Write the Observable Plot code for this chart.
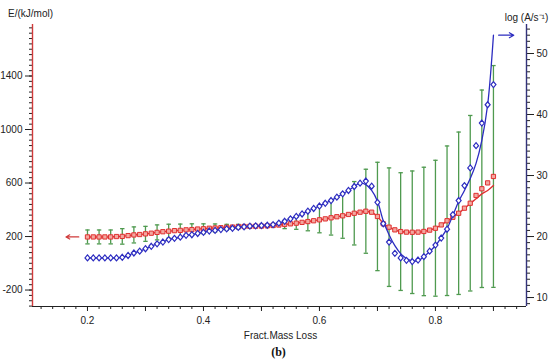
<!DOCTYPE html>
<html><head><meta charset="utf-8">
<script src="https://cdn.jsdelivr.net/npm/d3@7"></script>
<script src="https://cdn.jsdelivr.net/npm/@observablehq/plot@0.6"></script>
<style>body{margin:0;background:#fff}</style>
</head><body><div id="chart"></div>
<script>
// ---- data ----
const xs = [0.20,0.21,0.22,0.23,0.24,0.25,0.26,0.27,0.28,0.29,
            0.30,0.31,0.32,0.33,0.34,0.35,0.36,0.37,0.38,0.39,
            0.40,0.41,0.42,0.43,0.44,0.45,0.46,0.47,0.48,0.49,
            0.50,0.51,0.52,0.53,0.54,0.55,0.56,0.57,0.58,0.59,
            0.60,0.61,0.62,0.63,0.64,0.65,0.66,0.67,0.68,0.69,
            0.70,0.71,0.72,0.73,0.74,0.75,0.76,0.77,0.78,0.79,
            0.80,0.81,0.82,0.83,0.84,0.85,0.86,0.87,0.88,0.89,0.90];
// activation energy E (kJ/mol), red squares, left axis
const redE = [197,197,197,197,197,200,201,207,212,215,
              220,225,231,236,240,244,246,250,252,256,
              258,262,264,266,269,271,274,275,276,277,
              278,280,283,286,290,295,300,306,312,318,
              325,332,340,348,355,365,374,382,389,382,
              350,295,270,250,237,233,232,233,238,248,
              262,287,318,344,374,412,449,507,557,601,649];
// fitted E curve (red line)
const redFitE = [197,197,197,197,197,200,201,207,212,215,
                 220,225,231,236,240,244,246,250,252,256,
                 258,262,264,266,269,271,274,275,276,277,
                 278,280,283,286,290,295,300,306,312,318,
                 325,332,340,348,355,365,374,382,387,380,
                 350,300,270,250,238,233,232,233,238,248,
                 262,287,316,344,374,410,447,482,519,544,581];
// log A (s^-1), blue diamonds, right axis
const blueLogA = [16.5,16.5,16.5,16.5,16.5,16.5,16.6,16.9,17.3,17.6,
                  18.0,18.4,18.8,19.1,19.5,19.7,19.9,20.2,20.3,20.5,
                  20.7,20.9,21.0,21.15,21.25,21.35,21.5,21.6,21.7,21.75,
                  21.8,21.85,21.95,22.2,22.5,22.9,23.3,23.7,24.15,24.6,
                  25.0,25.45,25.9,26.45,27.0,27.55,28.2,28.75,29.1,28.25,
                  25.6,22.1,19.1,17.25,16.5,16.1,15.9,16.15,16.7,17.6,
                  18.6,19.75,21.2,23.6,25.9,28.35,31.25,34.9,38.6,41.6,44.9];
// fitted log A curve (blue line)
const blueFitLogA = [16.5,16.5,16.5,16.5,16.5,16.5,16.6,16.9,17.3,17.6,
                     18.0,18.4,18.8,19.1,19.5,19.7,19.9,20.2,20.3,20.5,
                     20.7,20.9,21.0,21.15,21.25,21.35,21.5,21.6,21.7,21.75,
                     21.8,21.85,21.95,22.2,22.5,22.9,23.3,23.7,24.15,24.6,
                     25.0,25.45,25.9,26.45,27.0,27.55,28.2,28.75,28.5,27.55,
                     25.8,22.6,20.3,18.5,17.2,16.4,16.0,16.05,16.65,17.55,
                     18.5,19.85,21.3,23.45,25.75,27.55,29.5,32.0,35.75,41.6,53.0];
// error bars on E (half widths, kJ/mol)
const errX = [0.20,0.22,0.24,0.26,0.28,0.30,0.32,0.34,0.36,0.38,
              0.40,0.42,0.44,0.46,0.48,0.50,0.52,0.54,0.56,0.58,
              0.60,0.62,0.64,0.66,0.68,0.70,0.72,0.74,0.76,0.78,
              0.80,0.82,0.84,0.86,0.88,0.90];
const errHalf = [52,52,52,58,60,56,56,52,47,43,
                 37,30,22,17,11,6,15,31,46,69,
                 97,129,168,237,314,405,443,440,458,480,
                 508,559,607,656,738,829];
const leftLabels = [-200,200,600,1000,1400];
const rightLabels = [10,20,30,40,50];
const xLabels = [0.2,0.4,0.6,0.8];

// ---- dual-axis alignment: log A -> E position ----
const toE = L => 200 + (L - 20) * 45.607;
const fromE = e => 20 + (e - 200) / 45.607;

const idx = x => Math.round((x - xs[0]) * 100);
const redRows = xs.map((x, i) => ({x, y: redE[i]}));
const redFitRows = xs.map((x, i) => ({x, y: redFitE[i]}));
const blueRows = xs.map((x, i) => ({x, y: toE(blueLogA[i])}));
const blueFitRows = xs.map((x, i) => ({x, y: toE(blueFitLogA[i])}));
const errRows = errX.map((x, i) => ({x, lo: redE[idx(x)] - errHalf[i], hi: redE[idx(x)] + errHalf[i]}));
const capRows = errRows.flatMap(d => [{x: d.x, y: d.lo}, {x: d.x, y: d.hi}]);

const xDomain = [0.1052, 0.957];
const yDomain = [-323, 1785];
const leftMinor = d3.range(-320, 1781, 40);
const rightMinor = d3.range(9, 55, 1).map(toE);
const xMinor = d3.range(6, 48).map(k => +(k * 0.02).toFixed(2)).filter(v => v > xDomain[0] && v < xDomain[1]);
const xMid = [0.1, 0.3, 0.5, 0.7, 0.9].filter(v => v > xDomain[0]);

const capSymbol = {draw(ctx, size) { const r = Math.sqrt(size / Math.PI); ctx.moveTo(-r, 0); ctx.lineTo(r, 0); }};
const diamondSymbol = {draw(ctx, size) { const r = Math.sqrt(size / Math.PI); ctx.moveTo(0, -r * 1.2); ctx.lineTo(r, 0); ctx.lineTo(0, r * 1.2); ctx.lineTo(-r, 0); ctx.closePath(); }};

const RED = "#e03030", BLUE = "#2c2cc0", GREEN = "#4f9a4f";
const blank = () => "";

const chart = Plot.plot({
  width: 550, height: 362,
  marginLeft: 32, marginRight: 24, marginTop: 24, marginBottom: 56,
  x: {domain: xDomain},
  y: {domain: yDomain},
  style: {fontFamily: "'Liberation Sans', Arial, sans-serif", fontSize: "10px", color: "#222", background: "#fff"},
  marks: [
    Plot.axisY({ticks: leftMinor, tickSize: 3, tickFormat: blank, label: null}),
    Plot.axisY({ticks: leftLabels, tickSize: 7, tickPadding: 3, tickFormat: d => String(d), label: null}),
    Plot.axisY({anchor: "right", ticks: rightMinor, tickSize: 3, tickFormat: blank, label: null}),
    Plot.axisY({anchor: "right", ticks: rightLabels.map(toE), tickSize: 7, tickPadding: 3, tickFormat: e => String(Math.round(fromE(e))), label: null}),
    Plot.axisX({ticks: xMinor, tickSize: 3, tickFormat: blank, label: null}),
    Plot.axisX({ticks: xMid, tickSize: 5, tickFormat: blank, label: null}),
    Plot.axisX({ticks: xLabels, tickSize: 5, tickPadding: 5, tickFormat: d => d.toFixed(1), label: null}),
    Plot.ruleX([xDomain[0]], {stroke: "#d03a3a", strokeWidth: 1.4}),
    Plot.ruleX([xDomain[1]], {stroke: "#33337a", strokeWidth: 1.4}),
    Plot.ruleY([yDomain[0]], {stroke: "#222", strokeWidth: 1}),
    // error bars
    Plot.ruleX(errRows, {x: "x", y1: "lo", y2: "hi", stroke: GREEN, strokeWidth: 1.3}),
    Plot.dot(capRows, {x: "x", y: "y", r: 2.2, symbol: capSymbol, stroke: GREEN, strokeWidth: 1.3}),
    // E series
    Plot.line(redFitRows, {x: "x", y: "y", stroke: RED, strokeWidth: 1.4, curve: "catmull-rom"}),
    Plot.dot(redRows, {x: "x", y: "y", r: 2.4, symbol: "square", stroke: RED, fill: "#f2a8a0", strokeWidth: 1}),
    // log A series
    Plot.line(blueFitRows, {x: "x", y: "y", stroke: BLUE, strokeWidth: 1.3, curve: "catmull-rom"}),
    Plot.dot(blueRows, {x: "x", y: "y", r: 2.5, symbol: diamondSymbol, stroke: BLUE, fill: "#fff", strokeWidth: 1.2}),
    // axis pointers
    Plot.arrow([{x1: 0.185, x2: 0.163, y: redE[0]}], {x1: "x1", x2: "x2", y1: "y", y2: "y", stroke: "#d03a3a", strokeWidth: 1.2, headLength: 9}),
    Plot.arrow([{x1: 0.909, x2: 0.935, y: toE(blueFitLogA[blueFitLogA.length - 1])}], {x1: "x1", x2: "x2", y1: "y", y2: "y", stroke: BLUE, strokeWidth: 1.2, headLength: 9}),
    // titles
    Plot.text(["E/(kJ/mol)"], {frameAnchor: "top-left", textAnchor: "middle", lineAnchor: "middle", dx: -2, dy: -11, fontSize: 10, fill: "#222"}),
    Plot.text(["log (A/s\u207B\u00B9)"], {frameAnchor: "top-right", textAnchor: "middle", lineAnchor: "middle", dx: 0, dy: -7, fontSize: 10, fill: "#222"}),
    Plot.text(["Fract.Mass Loss"], {frameAnchor: "bottom", textAnchor: "middle", lineAnchor: "middle", dx: 1, dy: 29, fontSize: 10, fill: "#222"}),
    Plot.text(["(b)"], {frameAnchor: "bottom", textAnchor: "middle", lineAnchor: "middle", dx: -1, dy: 46, fontSize: 12, fontWeight: "bold", fontFamily: "'Liberation Serif', 'Times New Roman', serif", fill: "#111"})
  ]
});
document.getElementById("chart").append(chart);
</script>
</body></html>
